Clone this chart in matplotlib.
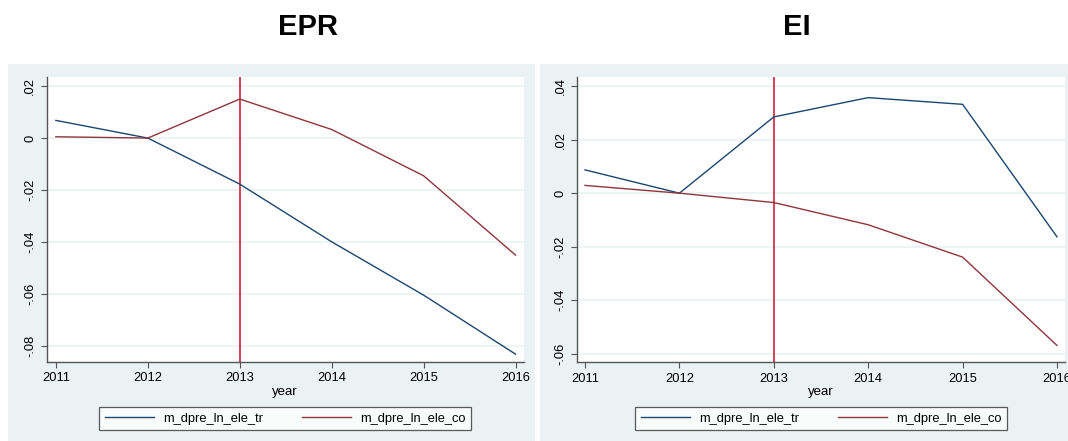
import matplotlib
matplotlib.use("Agg")
import matplotlib.pyplot as plt
from matplotlib.patches import Rectangle
from matplotlib.ticker import FuncFormatter

years = [2011, 2012, 2013, 2014, 2015, 2016]
epr_tr = [0.0068, 0.0, -0.0177, -0.0399, -0.0604, -0.0831]
epr_co = [0.0005, 0.0, 0.0150, 0.0033, -0.0145, -0.0450]
ei_tr = [0.0087, 0.0, 0.0285, 0.0357, 0.0332, -0.0163]
ei_co = [0.0029, 0.0, -0.0035, -0.0118, -0.0239, -0.0569]
epr_yticks = [0.02, 0.0, -0.02, -0.04, -0.06, -0.08]
ei_yticks = [0.04, 0.02, 0.0, -0.02, -0.04, -0.06]
titles = ["EPR", "EI"]
series_names = ["m_dpre_ln_ele_tr", "m_dpre_ln_ele_co"]
event_year = 2013

plt.rcParams['font.family'] = ['Liberation Sans', 'DejaVu Sans']

W, H = 1068, 441
fig = plt.figure(figsize=(W / 100, H / 100), dpi=100)

BG = "#eaf2f3"
C_TR = "#1a476f"
C_CO = "#90353b"
C_V = "#c8102e"
C_AX = "#555555"


def px_axes(x0, y0, x1, y1):
    return fig.add_axes([x0 / W, 1 - y1 / H, (x1 - x0) / W, (y1 - y0) / H])


def fmt(v, pos):
    if abs(v) < 1e-12:
        return "0"
    s = f"{v:.2f}"
    s = s.replace("0.", ".")
    return s


# panel backgrounds
for (x0, x1) in [(8, 535), (540, 1068)]:
    fig.patches.append(Rectangle((x0 / W, 0), (x1 - x0) / W, 1 - 64 / H,
                                 transform=fig.transFigure, facecolor=BG,
                                 edgecolor="none", zorder=-5))

panels = [
    dict(box=(46.5, 76.7, 524, 361.7), tr=epr_tr, co=epr_co, yt=epr_yticks,
         ylim=(-0.086, 0.0236), xlim=(2010.898, 2016.092), title_x=308,
         leg=(100, 406, 470, 431)),
    dict(box=(577, 77.3, 1065, 362.3), tr=ei_tr, co=ei_co, yt=ei_yticks,
         ylim=(-0.0632, 0.0433), xlim=(2010.915, 2016.085), title_x=797,
         leg=(632, 406, 1010, 431)),
]

for p, title in zip(panels, titles):
    ax = px_axes(*p["box"])
    ax.set_zorder(2)
    ax.set_facecolor("white")
    ax.set_xlim(*p["xlim"])
    ax.set_ylim(*p["ylim"])
    ax.set_yticks(p["yt"])
    ax.yaxis.set_major_formatter(FuncFormatter(fmt))
    ax.set_xticks(years)
    ax.grid(axis="y", color=BG, linewidth=1.2)
    ax.set_axisbelow(True)
    for s in ["top", "right"]:
        ax.spines[s].set_visible(False)
    for s in ["left", "bottom"]:
        ax.spines[s].set_color(C_AX)
        ax.spines[s].set_linewidth(1.0)
    ax.tick_params(axis="both", direction="out", length=4, width=0.8,
                   color=C_AX, labelsize=9.3)
    for lab in ax.get_yticklabels():
        lab.set_rotation(90)
        lab.set_va("center")
    ax.axvline(event_year, color=C_V, linewidth=1.1, zorder=1)
    l1, = ax.plot(years, p["tr"], color=C_TR, linewidth=1.0, zorder=3)
    l2, = ax.plot(years, p["co"], color=C_CO, linewidth=1.0, zorder=3)
    ax.set_xlabel("year", fontsize=9.5, labelpad=1)
    fig.text(p["title_x"] / W, 1 - 27 / H, title, ha="center", va="center",
             fontsize=21, fontweight="bold")
    lx0, ly0, lx1, ly1 = p["leg"]
    leg = fig.legend([l1, l2], series_names, ncol=2,
                     loc="center", bbox_to_anchor=(((lx0 + lx1) / 2) / W,
                                                   1 - ((ly0 + ly1) / 2) / H),
                     frameon=True, fancybox=False, fontsize=9.3,
                     handlelength=3.8, columnspacing=3.0, handletextpad=0.7,
                     borderpad=0.45)
    leg.get_frame().set_edgecolor("#333333")
    leg.get_frame().set_linewidth(0.9)
    leg.get_frame().set_facecolor("white")

fig.savefig("out.png", dpi=100, facecolor="white")
